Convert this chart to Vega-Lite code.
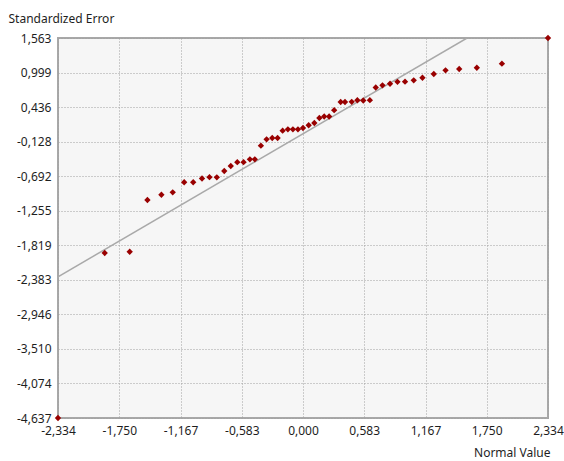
{
  "$schema": "https://vega.github.io/schema/vega-lite/v6.json",
  "width": 490,
  "height": 380,
  "autosize": {"type": "none"},
  "padding": {"left": 58, "top": 38, "right": 16, "bottom": 43},
  "background": "white",
  "config": {
    "view": {"fill": "#f6f6f6", "stroke": "#a8a8a8", "strokeWidth": 2},
    "font": "Noto Sans",
    "axis": {
      "labelFont": "Noto Sans",
      "labelFontSize": 12,
      "labelColor": "#1e1e1e",
      "labelOverlap": false,
      "labelFlush": false,
      "labelBound": false,
      "titleFont": "Noto Sans",
      "titleFontSize": 12,
      "titleFontWeight": "normal",
      "titleColor": "#1e1e1e",
      "domain": false,
      "ticks": false,
      "grid": true,
      "gridColor": "#a0a0a0",
      "gridDash": [1, 2],
      "gridWidth": 1
    }
  },
  "datasets": {
    "points": [
      {"normal": -2.334, "error": -4.637},
      {"normal": -1.889, "error": -1.945},
      {"normal": -1.651, "error": -1.924},
      {"normal": -1.482, "error": -1.080},
      {"normal": -1.349, "error": -0.994},
      {"normal": -1.241, "error": -0.955},
      {"normal": -1.132, "error": -0.791},
      {"normal": -1.046, "error": -0.791},
      {"normal": -0.962, "error": -0.729},
      {"normal": -0.891, "error": -0.708},
      {"normal": -0.821, "error": -0.710},
      {"normal": -0.750, "error": -0.607},
      {"normal": -0.688, "error": -0.525},
      {"normal": -0.626, "error": -0.463},
      {"normal": -0.566, "error": -0.463},
      {"normal": -0.506, "error": -0.416},
      {"normal": -0.459, "error": -0.416},
      {"normal": -0.401, "error": -0.194},
      {"normal": -0.347, "error": -0.090},
      {"normal": -0.293, "error": -0.069},
      {"normal": -0.242, "error": -0.069},
      {"normal": -0.194, "error": 0.051},
      {"normal": -0.144, "error": 0.073},
      {"normal": -0.096, "error": 0.073},
      {"normal": -0.048, "error": 0.073},
      {"normal": 0.000, "error": 0.095},
      {"normal": 0.054, "error": 0.139},
      {"normal": 0.108, "error": 0.176},
      {"normal": 0.156, "error": 0.258},
      {"normal": 0.202, "error": 0.282},
      {"normal": 0.249, "error": 0.282},
      {"normal": 0.297, "error": 0.385},
      {"normal": 0.359, "error": 0.519},
      {"normal": 0.400, "error": 0.519},
      {"normal": 0.464, "error": 0.522},
      {"normal": 0.518, "error": 0.547},
      {"normal": 0.574, "error": 0.543},
      {"normal": 0.637, "error": 0.548},
      {"normal": 0.693, "error": 0.755},
      {"normal": 0.757, "error": 0.791},
      {"normal": 0.829, "error": 0.816},
      {"normal": 0.900, "error": 0.848},
      {"normal": 0.972, "error": 0.850},
      {"normal": 1.055, "error": 0.873},
      {"normal": 1.138, "error": 0.915},
      {"normal": 1.246, "error": 0.976},
      {"normal": 1.358, "error": 1.036},
      {"normal": 1.488, "error": 1.057},
      {"normal": 1.656, "error": 1.078},
      {"normal": 1.895, "error": 1.144},
      {"normal": 2.334, "error": 1.563}
    ],
    "refline": [
      {"normal": -2.334, "error": -2.334},
      {"normal": 1.563, "error": 1.563}
    ]
  },
  "layer": [
    {
      "data": {"name": "refline"},
      "mark": {"type": "line", "color": "#a9a9a9", "strokeWidth": 1.5, "clip": true},
      "encoding": {
        "x": {
          "field": "normal", "type": "quantitative",
          "scale": {"domain": [-2.334, 2.334], "nice": false, "zero": false},
          "axis": {
            "title": "Normal Value",
            "values": [-2.334, -1.75, -1.167, -0.583, 0, 0.583, 1.167, 1.75, 2.334],
            "tickCount": 30,
            "labelExpr": "replace(replace(format(datum.value, '.3f'), '.', ','), '\u2212', '-')",
            "labelOverlap": false,
            "labelFlush": false,
            "labelPadding": 7,
            "titleAngle": 0,
            "titleAlign": "right",
            "titleAnchor": null,
            "titleX": 492,
            "titleY": 38,
            "titleBaseline": "alphabetic"
          }
        },
        "y": {
          "field": "error", "type": "quantitative",
          "scale": {"domain": [-4.637, 1.563], "nice": false, "zero": false},
          "axis": {
            "title": "Standardized Error",
            "values": [1.563, 0.999, 0.436, -0.128, -0.692, -1.255, -1.819, -2.383, -2.946, -3.51, -4.074, -4.637],
            "tickCount": 30,
            "labelExpr": "replace(replace(format(datum.value, '.3f'), '.', ','), '\u2212', '-')",
            "labelOverlap": false,
            "labelFlush": false,
            "labelPadding": 7,
            "titleAngle": 0,
            "titleAlign": "left",
            "titleAnchor": null,
            "titleX": -50,
            "titleY": -16,
            "titleBaseline": "alphabetic"
          }
        }
      }
    },
    {
      "data": {"name": "points"},
      "mark": {"type": "point", "shape": "diamond", "filled": true, "color": "#990000", "size": 40, "opacity": 1},
      "encoding": {
        "x": {"field": "normal", "type": "quantitative"},
        "y": {"field": "error", "type": "quantitative"}
      }
    }
  ]
}
